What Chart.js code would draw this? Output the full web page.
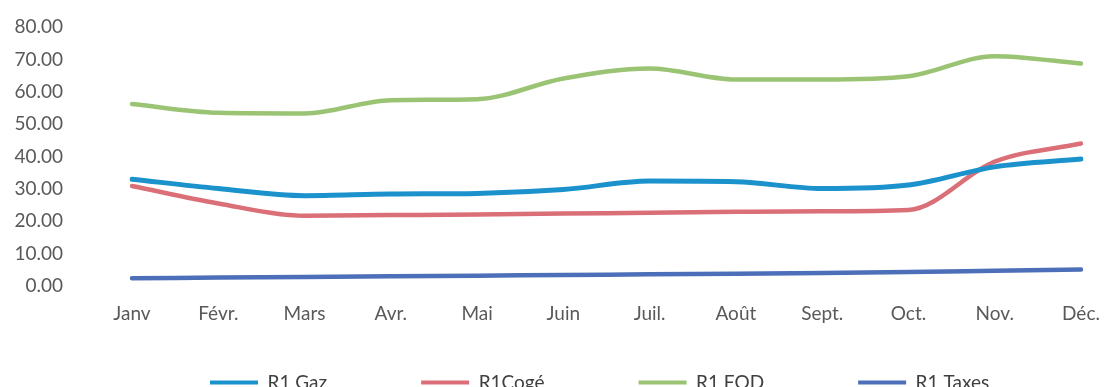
<!DOCTYPE html>
<html>
<head>
<meta charset="utf-8">
<script src="https://cdn.jsdelivr.net/npm/chart.js@4/dist/chart.umd.min.js"></script>
<style>
    html, body { margin: 0; padding: 0; background: #fff; overflow: hidden; }
    #r1-container { width: 1104px; height: 387px; position: relative; }
</style>
</head>
<body>
<div id="r1-container"><canvas id="r1-chart"></canvas></div>
<script>
// mois + valeurs R1 par poste
const labelsMois = ['Janv', 'Févr.', 'Mars', 'Avr.', 'Mai', 'Juin', 'Juil.', 'Août', 'Sept.', 'Oct.', 'Nov.', 'Déc.'];
const r1Gaz = [33.0, 30.1, 27.9, 28.4, 28.6, 29.8, 32.4, 32.2, 30.1, 31.2, 36.8, 39.2];
const r1Coge = [30.9, 25.5, 21.7, 21.9, 22.1, 22.4, 22.6, 22.9, 23.1, 23.5, 38.4, 44.0];
const r1Fod = [56.2, 53.5, 53.3, 57.4, 57.7, 64.1, 67.2, 63.8, 63.8, 64.8, 71.0, 68.7];
const r1Taxes = [2.4, 2.6, 2.8, 3.0, 3.2, 3.4, 3.6, 3.8, 4.0, 4.3, 4.7, 5.1];
const yTicks = [0, 10, 20, 30, 40, 50, 60, 70, 80];

const fontFamily = 'Lato, "Open Sans", sans-serif';
const legendPadding = 94;

const r1Data = {
    labels: labelsMois,
    datasets: [
        { label: 'R1 Gaz', borderColor: '#1b92cc', backgroundColor: '#1b92cc', borderWidth: 5, data: r1Gaz },
        { label: 'R1Cogé', borderColor: '#da6f78', backgroundColor: '#da6f78', borderWidth: 4.5, data: r1Coge },
        { label: 'R1 FOD', borderColor: '#9ac474', backgroundColor: '#9ac474', borderWidth: 4.5, data: r1Fod },
        { label: 'R1 Taxes', borderColor: '#4d6fb9', backgroundColor: '#4d6fb9', borderWidth: 4.5, data: r1Taxes },
    ]
};

// legende : items tres espaces mais hauteur reduite, calee en bas a gauche
const legendPlacement = {
    id: 'legendPlacement',
    beforeLayout(chart) {
        const legend = chart.legend;
        if (legend && !legend._fitPatched) {
            const fit = legend.fit.bind(legend);
            legend.fit = function () {
                fit();
                this.height = 27;
            };
            legend._fitPatched = true;
        }
    },
    afterLayout(chart) {
        const legend = chart.legend;
        const w = legend.right - legend.left;
        legend.left = 210 - legendPadding;
        legend.right = legend.left + w;
        legend.top = 373 - legendPadding;
    }
};

const r1Config = {
    type: 'line',
    data: r1Data,
    plugins: [legendPlacement],
    options: {
        responsive: true,
        maintainAspectRatio: false,
        animation: false,
        layout: { padding: { top: 27, right: 23, left: 0, bottom: 0 } },
        elements: {
            point: { radius: 0 },
            line: { cubicInterpolationMode: 'monotone', borderCapStyle: 'round' }
        },
        plugins: {
            legend: {
                position: 'bottom',
                align: 'start',
                labels: {
                    boxWidth: 48,
                    boxHeight: 4,
                    padding: legendPadding,
                    color: '#404040',
                    font: { family: fontFamily, size: 19 },
                    generateLabels(chart) {
                        return Chart.defaults.plugins.legend.labels.generateLabels(chart).map(l => {
                            l.lineWidth = 0;
                            l.fillStyle = l.strokeStyle;
                            return l;
                        });
                    }
                }
            },
            tooltip: { enabled: false }
        },
        scales: {
            x: {
                grid: { display: false, drawTicks: false },
                border: { display: false },
                ticks: {
                    padding: 16,
                    color: '#595959',
                    maxRotation: 0,
                    autoSkip: false,
                    font: { family: fontFamily, size: 19 }
                },
                afterFit(axis) {
                    axis.height = 74;
                    axis.paddingLeft = 0;
                    axis.paddingRight = 0;
                }
            },
            y: {
                min: 0,
                max: 80,
                grid: { display: false, drawTicks: false },
                border: { display: false },
                afterBuildTicks(axis) { axis.ticks = yTicks.map(v => ({ value: v })); },
                ticks: {
                    padding: 69,
                    color: '#595959',
                    font: { family: fontFamily, size: 19 },
                    callback: v => v.toFixed(2)
                },
                afterFit(axis) {
                    axis.width = 132;
                    axis.paddingTop = 0;
                    axis.paddingBottom = 0;
                }
            }
        }
    }
};

const r1Chart = new Chart(
    document.getElementById('r1-chart'),
    r1Config
);
</script>
</body>
</html>
